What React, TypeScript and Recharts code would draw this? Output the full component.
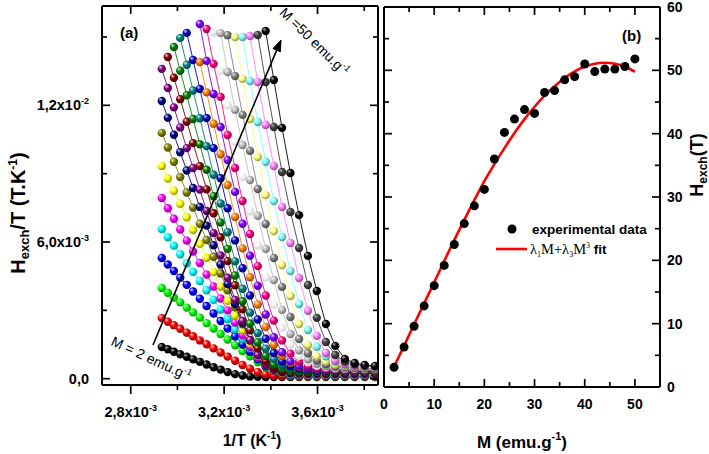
import React from 'react';
import { ScatterChart, Scatter, XAxis, YAxis } from 'recharts';

const FONT = '"Liberation Sans", Arial, sans-serif';
const SERIF = '"Liberation Serif", "Times New Roman", serif';
const _ = null;

// ---------- Panel (a): Hexch/T (10^-3 T/K) vs 1/T (10^-3 1/K) ----------
const INV_T = [2.933, 2.959, 2.985, 3.012, 3.040, 3.067, 3.096, 3.125, 3.155, 3.185, 3.215, 3.247, 3.279, 3.311, 3.344, 3.378, 3.413, 3.448, 3.484, 3.521, 3.559, 3.597, 3.636, 3.676, 3.717, 3.759, 3.802, 3.846];
const M_VALUES = [2, 4, 6, 8, 10, 12, 14, 16, 18, 20, 22, 24, 26, 28, 30, 32, 34, 36, 38, 40, 42, 44, 46, 48, 50];

const HT_M02 = [1.39, 1.29, 1.18, 1.07, 0.96, 0.85, 0.74, 0.62, 0.50, 0.40, 0.29, 0.20, 0.14, 0.10, 0.08, 0.07, 0.07, 0.07, 0.07, 0.07, 0.07, 0.07, 0.07, 0.07, 0.07, 0.07, 0.07, 0.07];
const HT_M04 = [2.66, 2.50, 2.35, 2.19, 2.02, 1.86, 1.68, 1.51, 1.33, 1.15, 0.97, 0.79, 0.60, 0.44, 0.29, 0.19, 0.13, 0.11, 0.10, 0.09, 0.09, 0.09, 0.09, 0.09, 0.09, 0.09, 0.09, 0.09];
const HT_M06 = [3.98, 3.77, 3.56, 3.35, 3.12, 2.91, 2.68, 2.44, 2.20, 1.96, 1.72, 1.47, 1.21, 0.98, 0.72, 0.50, 0.32, 0.21, 0.15, 0.12, 0.11, 0.11, 0.11, 0.11, 0.11, 0.11, 0.11, 0.11];
const HT_M08 = [5.30, 5.01, 4.73, 4.43, 4.12, 3.83, 3.51, 3.19, 2.86, 2.53, 2.20, 1.85, 1.50, 1.17, 0.85, 0.55, 0.35, 0.22, 0.17, 0.14, 0.13, 0.13, 0.13, 0.13, 0.13, 0.13, 0.13, 0.13];
const HT_M10 = [6.57, 6.21, 5.84, 5.46, 5.07, 4.69, 4.29, 3.88, 3.46, 3.04, 2.62, 2.17, 1.75, 1.33, 0.93, 0.60, 0.36, 0.24, 0.18, 0.16, 0.15, 0.15, 0.15, 0.15, 0.15, 0.15, 0.15, 0.15];
const HT_M12 = [7.93, 7.48, 7.02, 6.55, 6.06, 5.58, 5.08, 4.57, 4.05, 3.52, 3.00, 2.46, 1.91, 1.40, 0.94, 0.58, 0.35, 0.24, 0.20, 0.18, 0.17, 0.17, 0.17, 0.17, 0.17, 0.17, 0.17, 0.17];
const HT_M14 = [9.34, 8.79, 8.25, 7.68, 7.09, 6.53, 5.92, 5.31, 4.68, 4.05, 3.42, 2.77, 2.13, 1.53, 1.01, 0.61, 0.37, 0.26, 0.22, 0.20, 0.19, 0.19, 0.19, 0.19, 0.19, 0.19, 0.19, 0.19];
const HT_M16 = [10.79, 10.15, 9.52, 8.85, 8.17, 7.51, 6.80, 6.09, 5.35, 4.62, 3.88, 3.13, 2.39, 1.70, 1.10, 0.67, 0.41, 0.29, 0.24, 0.22, 0.21, 0.21, 0.21, 0.21, 0.21, 0.21, 0.21, 0.21];
const HT_M18 = [12.19, 11.45, 10.71, 9.94, 9.14, 8.37, 7.54, 6.72, 5.86, 5.01, 4.15, 3.28, 2.45, 1.68, 1.06, 0.63, 0.39, 0.29, 0.25, 0.24, 0.23, 0.23, 0.23, 0.23, 0.23, 0.23, 0.23, 0.23];
const HT_M20 = [13.60, 12.76, 11.91, 11.03, 10.12, 9.25, 8.30, 7.36, 6.39, 5.41, 4.43, 3.46, 2.53, 1.69, 1.04, 0.61, 0.40, 0.31, 0.27, 0.26, 0.25, 0.25, 0.25, 0.25, 0.25, 0.25, 0.25, 0.25];
const HT_M22 = [_, 14.12, 13.21, 12.27, 11.28, 10.34, 9.33, 8.31, 7.26, 6.21, 5.16, 4.10, 3.05, 2.12, 1.33, 0.77, 0.48, 0.35, 0.30, 0.28, 0.27, 0.27, 0.27, 0.27, 0.27, 0.27, 0.27, 0.27];
const HT_M24 = [_, _, 14.56, 13.52, 12.44, 11.40, 10.29, 9.17, 8.01, 6.86, 5.70, 4.53, 3.40, 2.42, 1.60, 1.00, 0.62, 0.44, 0.35, 0.31, 0.30, 0.29, 0.29, 0.29, 0.29, 0.29, 0.29, 0.29];
const HT_M26 = [_, _, _, 14.96, 13.78, 12.65, 11.43, 10.21, 8.95, 7.69, 6.43, 5.15, 3.95, 2.90, 2.00, 1.32, 0.86, 0.60, 0.46, 0.39, 0.35, 0.33, 0.32, 0.31, 0.31, 0.31, 0.31, 0.31];
const HT_M28 = [_, _, _, _, 15.18, 13.99, 12.72, 11.44, 10.12, 8.80, 7.48, 6.07, 4.85, 3.65, 2.60, 1.75, 1.13, 0.75, 0.55, 0.45, 0.39, 0.36, 0.35, 0.34, 0.33, 0.33, 0.33, 0.33];
const HT_M30 = [_, _, _, _, _, _, 13.90, 12.57, 11.19, 9.85, 8.50, 7.10, 5.72, 4.45, 3.26, 2.27, 1.49, 1.00, 0.69, 0.52, 0.44, 0.40, 0.38, 0.37, 0.36, 0.36, 0.36, 0.36];
const HT_M32 = [_, _, _, _, _, _, 15.57, 13.95, 12.50, 11.05, 9.60, 8.20, 6.80, 5.40, 4.08, 2.82, 1.82, 1.16, 0.76, 0.55, 0.45, 0.41, 0.39, 0.38, 0.38, 0.38, 0.38, 0.38];
const HT_M34 = [_, _, _, _, _, _, _, 15.35, 13.82, 12.37, 10.70, 9.25, 7.80, 6.35, 4.94, 3.65, 2.55, 1.68, 1.10, 0.75, 0.57, 0.48, 0.44, 0.42, 0.41, 0.40, 0.40, 0.40];
const HT_M36 = [_, _, _, _, _, _, _, _, 15.20, 13.50, 12.00, 10.40, 8.85, 7.35, 5.85, 4.45, 3.25, 2.25, 1.50, 1.00, 0.72, 0.57, 0.50, 0.46, 0.44, 0.43, 0.42, 0.42];
const HT_M38 = [_, _, _, _, _, _, _, _, _, 15.17, 13.46, 11.80, 10.26, 8.72, 7.15, 5.70, 4.33, 3.02, 1.96, 1.25, 0.85, 0.65, 0.55, 0.50, 0.47, 0.46, 0.45, 0.44];
const HT_M40 = [_, _, _, _, _, _, _, _, _, _, 15.08, 13.29, 11.58, 10.00, 8.33, 6.79, 5.30, 4.03, 2.71, 1.74, 1.12, 0.80, 0.64, 0.56, 0.51, 0.49, 0.47, 0.46];
const HT_M42 = [_, _, _, _, _, _, _, _, _, _, _, 15.00, 13.16, 11.40, 9.73, 8.06, 6.48, 4.99, 3.63, 2.40, 1.48, 0.98, 0.74, 0.61, 0.55, 0.52, 0.50, 0.49];
const HT_M44 = [_, _, _, _, _, _, _, _, _, _, _, _, 15.00, 13.07, 11.27, 9.52, 7.80, 6.22, 4.73, 3.28, 2.14, 1.40, 0.98, 0.75, 0.62, 0.56, 0.53, 0.51];
const HT_M46 = [_, _, _, _, _, _, _, _, _, _, _, _, _, 15.04, 13.02, 11.14, 9.34, 7.54, 5.96, 4.42, 2.98, 1.88, 1.13, 0.80, 0.64, 0.57, 0.54, 0.52];
const HT_M48 = [_, _, _, _, _, _, _, _, _, _, _, _, _, _, 15.09, 13.02, 11.05, 9.07, 7.32, 5.74, 4.11, 2.67, 1.61, 1.04, 0.75, 0.63, 0.58, 0.55];
const HT_M50 = [_, _, _, _, _, _, _, _, _, _, _, _, _, _, _, 15.26, 13.11, 11.01, 9.03, 7.18, 5.39, 3.85, 2.40, 1.44, 0.87, 0.69, 0.60, 0.56];

const SERIES_COLORS = ['#000000', '#FF0000', '#00FF00', '#0000FF', '#00FFFF', '#FF00FF', '#FFFF00', '#808000', '#000080', '#800080', '#800000', '#008000', '#008080', '#0000C0', '#FF8000', '#8000FF', '#FF0080', '#FFFFFF', '#C0C0C0', '#808080', '#FFFF80', '#80FFFF', '#FF80FF', '#404040', '#000000'];

const A_X_TICKS = [2.8, 3.0, 3.2, 3.4, 3.6, 3.8];
const A_X_LABELS = [{ v: 2.8, base: '2,8x10', exp: '-3' }, { v: 3.2, base: '3,2x10', exp: '-3' }, { v: 3.6, base: '3,6x10', exp: '-3' }];
const A_Y_TICKS = [0, 3, 6, 9, 12, 15];
const A_Y_LABELS = [{ v: 0, base: '0,0', exp: '' }, { v: 6, base: '6,0x10', exp: '-3' }, { v: 12, base: '1,2x10', exp: '-2' }];

// ---------- Panel (b): Hexch (T) vs M (emu/g) ----------
const M_EXP = [2, 4, 6, 8, 10, 12, 14, 16, 18, 20, 22, 24, 26, 28, 30, 32, 34, 36, 38, 40, 42, 44, 46, 48, 50];
const H_EXP = [3.1, 6.3, 9.6, 12.8, 16.0, 19.2, 22.5, 25.8, 28.6, 31.2, 36.0, 40.2, 42.3, 43.8, 43.2, 46.5, 46.8, 48.5, 49.0, 51.0, 49.8, 50.2, 50.2, 50.6, 51.8];
const M_FIT = [2, 4, 6, 8, 10, 12, 14, 16, 18, 20, 22, 24, 26, 28, 30, 32, 34, 36, 38, 40, 42, 44, 46, 48, 50];
const H_FIT = [3.2, 6.5, 9.9, 13.2, 16.5, 19.9, 23.2, 26.4, 29.5, 32.5, 35.2, 37.7, 40.1, 42.3, 44.25, 46.0, 47.5, 48.8, 49.85, 50.6, 51.05, 51.2, 51.05, 50.6, 49.75];
const B_X_TICKS = [0, 5, 10, 15, 20, 25, 30, 35, 40, 45, 50];
const B_X_LABELS = [0, 10, 20, 30, 40, 50];
const B_Y_TICKS = [0, 5, 10, 15, 20, 25, 30, 35, 40, 45, 50, 55, 60];
const B_Y_LABELS = [0, 10, 20, 30, 40, 50, 60];

const HT_SERIES = [HT_M02, HT_M04, HT_M06, HT_M08, HT_M10, HT_M12, HT_M14, HT_M16, HT_M18, HT_M20, HT_M22, HT_M24, HT_M26, HT_M28, HT_M30, HT_M32, HT_M34, HT_M36, HT_M38, HT_M40, HT_M42, HT_M44, HT_M46, HT_M48, HT_M50];

const panelAData = HT_SERIES.map((arr) =>
  arr.map((v, i) => (v == null ? null : { x: INV_T[i], y: v })).filter((p) => p !== null) as { x: number; y: number }[]
);
const expData = M_EXP.map((m, i) => ({ x: m, y: H_EXP[i] }));
const fitData = M_FIT.map((m, i) => ({ x: m, y: H_FIT[i] }));

function mix(hex: string, target: number, f: number) {
  const n = parseInt(hex.slice(1), 16);
  const c = [(n >> 16) & 255, (n >> 8) & 255, n & 255].map((v) => Math.round(v + (target - v) * f));
  return `rgb(${c[0]},${c[1]},${c[2]})`;
}

const near = (a: number, b: number) => Math.abs(a - b) < 1e-6;
const LW = 1.7;

// Panel (a) ticks
const ABottomTick = (p: any) => {
  const lab = A_X_LABELS.find((l) => near(l.v, p.payload.value));
  return (
    <g>
      <line x1={p.x} x2={p.x} y1={p.y} y2={p.y + (lab ? 9 : 5)} stroke="#000" strokeWidth={LW} />
      {lab && (
        <text x={p.x} y={p.y + 32} textAnchor="middle" fontFamily={FONT} fontWeight="bold" fontSize={14.5} fill="#000">
          {lab.base}
          <tspan dy={-6} fontSize={9}>{lab.exp}</tspan>
        </text>
      )}
    </g>
  );
};
const ATopTick = (p: any) => {
  const major = A_X_LABELS.some((l) => near(l.v, p.payload.value));
  return <line x1={p.x} x2={p.x} y1={p.y} y2={p.y + (major ? 8 : 5)} stroke="#000" strokeWidth={LW} />;
};
const ALeftTick = (p: any) => {
  const lab = A_Y_LABELS.find((l) => near(l.v, p.payload.value));
  return (
    <g>
      <line x1={p.x} x2={p.x + (lab ? 8 : 5)} y1={p.y} y2={p.y} stroke="#000" strokeWidth={LW} />
      {lab && (
        <text x={p.x - 13} y={p.y + 5} textAnchor="end" fontFamily={FONT} fontWeight="bold" fontSize={14.5} fill="#000">
          {lab.base}
          {lab.exp && <tspan dy={-6} fontSize={9}>{lab.exp}</tspan>}
        </text>
      )}
    </g>
  );
};
const ARightTick = (p: any) => {
  const major = A_Y_LABELS.some((l) => near(l.v, p.payload.value));
  return <line x1={p.x} x2={p.x - (major ? 8 : 5)} y1={p.y} y2={p.y} stroke="#000" strokeWidth={LW} />;
};

// Panel (b) ticks
const BBottomTick = (p: any) => {
  const major = B_X_LABELS.includes(p.payload.value);
  return (
    <g>
      <line x1={p.x} x2={p.x} y1={p.y} y2={p.y - (major ? 8 : 5)} stroke="#000" strokeWidth={LW} />
      {major && (
        <text x={p.x} y={p.y + 22} textAnchor="middle" fontFamily={FONT} fontWeight="bold" fontSize={14} fill="#000">
          {p.payload.value}
        </text>
      )}
    </g>
  );
};
const BTopTick = (p: any) => {
  const major = B_X_LABELS.includes(p.payload.value);
  return <line x1={p.x} x2={p.x} y1={p.y} y2={p.y + (major ? 8 : 5)} stroke="#000" strokeWidth={LW} />;
};
const BRightTick = (p: any) => {
  const major = B_Y_LABELS.includes(p.payload.value);
  return (
    <g>
      <line x1={p.x} x2={p.x - (major ? 8 : 5)} y1={p.y} y2={p.y} stroke="#000" strokeWidth={LW} />
      {major && (
        <text x={p.x + 7} y={p.y + 5} textAnchor="start" fontFamily={FONT} fontWeight="bold" fontSize={14} fill="#000">
          {p.payload.value}
        </text>
      )}
    </g>
  );
};
const BLeftTick = (p: any) => {
  const major = B_Y_LABELS.includes(p.payload.value);
  return <line x1={p.x} x2={p.x + (major ? 8 : 5)} y1={p.y} y2={p.y} stroke="#000" strokeWidth={LW} />;
};

const AXLINE = { stroke: '#000', strokeWidth: 2 };
const A_XDOM: [number, number] = [2.677, 3.859];
const A_YDOM: [number, number] = [-0.277, 16.36];

const makeBall = (i: number) => (p: any) =>
  p.cx == null ? <g /> : <circle cx={p.cx} cy={p.cy} r={4.2} fill={`url(#ball${i})`} />;

const ExpDot = (p: any) => (p.cx == null ? <g /> : <circle cx={p.cx} cy={p.cy} r={4.5} fill="#000" />);
const NoDot = () => <g />;

export default function App() {
  return (
    <div style={{ position: 'absolute', left: 0, top: 0, width: 709, height: 454, background: '#fff', overflow: 'hidden' }}>
      <svg width={0} height={0} style={{ position: 'absolute' }}>
        <defs>
          {SERIES_COLORS.map((c, i) => (
            <radialGradient key={i} id={`ball${i}`} cx="42%" cy="40%" r="62%" fx="32%" fy="28%">
              <stop offset="0%" stopColor={c === '#000000' || c === '#404040' ? '#b0b0b0' : mix(c, 255, 0.85)} />
              <stop offset="45%" stopColor={c === '#FFFFFF' ? '#f4f4f4' : c} />
              <stop offset="100%" stopColor={c === '#FFFFFF' ? '#cfcfcf' : mix(c, 0, 0.45)} />
            </radialGradient>
          ))}
        </defs>
      </svg>

      {/* Panel (a): plot area x 102..378, y 6..385 */}
      <div style={{ position: 'absolute', left: 0, top: 0 }}>
        <ScatterChart width={709} height={454} margin={{ top: 5, left: 101, right: 330, bottom: 68 }}>
          <XAxis xAxisId="b" type="number" dataKey="x" domain={A_XDOM} ticks={A_X_TICKS} interval={0} allowDataOverflow height={1} tickSize={0} tickMargin={0} tickLine={false} axisLine={AXLINE} tick={ABottomTick} />
          <XAxis xAxisId="t" orientation="top" type="number" dataKey="x" domain={A_XDOM} ticks={A_X_TICKS} interval={0} allowDataOverflow height={1} tickSize={0} tickMargin={0} tickLine={false} axisLine={AXLINE} tick={ATopTick} />
          <YAxis yAxisId="l" type="number" dataKey="y" domain={A_YDOM} ticks={A_Y_TICKS} interval={0} allowDataOverflow width={1} tickSize={0} tickMargin={0} tickLine={false} axisLine={AXLINE} tick={ALeftTick} />
          <YAxis yAxisId="r" orientation="right" type="number" dataKey="y" domain={A_YDOM} ticks={A_Y_TICKS} interval={0} allowDataOverflow width={1} tickSize={0} tickMargin={0} tickLine={false} axisLine={AXLINE} tick={ARightTick} />
          {panelAData.map((d, i) => (
            <Scatter
              key={M_VALUES[i]}
              name={`M = ${M_VALUES[i]} emu/g`}
              xAxisId="b"
              yAxisId="l"
              data={d}
              fill={SERIES_COLORS[i]}
              line={{ stroke: SERIES_COLORS[i], strokeWidth: 0.9 }}
              shape={makeBall(i)}
              isAnimationActive={false}
            />
          ))}
        </ScatterChart>
      </div>

      {/* Panel (b): plot area x 384..660, y 7..387 */}
      <div style={{ position: 'absolute', left: 0, top: 0 }}>
        <ScatterChart width={709} height={454} margin={{ top: 6, left: 383, right: 48, bottom: 66 }}>
          <XAxis xAxisId="b" type="number" dataKey="x" domain={[0, 55]} ticks={B_X_TICKS} interval={0} allowDataOverflow height={1} tickSize={0} tickMargin={0} tickLine={false} axisLine={AXLINE} tick={BBottomTick} />
          <XAxis xAxisId="t" orientation="top" type="number" dataKey="x" domain={[0, 55]} ticks={B_X_TICKS} interval={0} allowDataOverflow height={1} tickSize={0} tickMargin={0} tickLine={false} axisLine={AXLINE} tick={BTopTick} />
          <YAxis yAxisId="r" orientation="right" type="number" dataKey="y" domain={[0, 60]} ticks={B_Y_TICKS} interval={0} allowDataOverflow width={1} tickSize={0} tickMargin={0} tickLine={false} axisLine={AXLINE} tick={BRightTick} />
          <YAxis yAxisId="l" type="number" dataKey="y" domain={[0, 60]} ticks={B_Y_TICKS} interval={0} allowDataOverflow width={1} tickSize={0} tickMargin={0} tickLine={false} axisLine={AXLINE} tick={BLeftTick} />
          <Scatter name="fit" xAxisId="b" yAxisId="r" data={fitData} fill="#ff0000" line={{ stroke: '#ff0000', strokeWidth: 2.6 }} lineJointType="monotoneX" shape={NoDot} isAnimationActive={false} />
          <Scatter name="experimental data" xAxisId="b" yAxisId="r" data={expData} fill="#000" shape={ExpDot} isAnimationActive={false} />
        </ScatterChart>
      </div>

      {/* Annotations */}
      <svg width={709} height={454} style={{ position: 'absolute', left: 0, top: 0, pointerEvents: 'none' }}>
        <text x={120} y={38} fontFamily={FONT} fontWeight="bold" fontSize={15} fill="#000">(a)</text>
        <text x={622} y={41} fontFamily={FONT} fontWeight="bold" fontSize={15} fill="#000">(b)</text>

        <line x1={153} y1={345} x2={276.7} y2={50.1} stroke="#000" strokeWidth={1.6} />
        <polygon points="281,40 280.4,51.7 273.0,48.6" fill="#000" stroke="#000" strokeWidth={1} />
        <text transform="translate(149,363) rotate(25)" textAnchor="middle" fontFamily={FONT} fontSize={14} fill="#000">
          M = 2 emu.g<tspan dy={-6} fontSize={9}>-1</tspan>
        </text>
        <text transform="translate(311,45) rotate(44.5)" textAnchor="middle" fontFamily={FONT} fontSize={14} fill="#000">
          M =50 emu.g<tspan dy={-6} fontSize={9}>-1</tspan>
        </text>

        <circle cx={512} cy={229} r={4.5} fill="#000" />
        <text x={532} y={233.5} fontFamily={FONT} fontWeight="bold" fontSize={13.5} fill="#000">experimental data</text>
        <line x1={496} y1={249} x2={527} y2={249} stroke="#ff0000" strokeWidth={2.6} />
        <text x={530} y={254} fontFamily={SERIF} fontSize={14.5} fill="#000">
          λ<tspan dy={3} fontSize={8}>1</tspan>
          <tspan dy={-3}>M+λ</tspan>
          <tspan dy={3} fontSize={8}>3</tspan>
          <tspan dy={-3}>M</tspan>
          <tspan dy={-6} fontSize={8}>3</tspan>
          <tspan dy={6} fontFamily={FONT} fontWeight="bold" fontSize={13.5}> fit</tspan>
        </text>

        <text x={252} y={446} textAnchor="middle" fontFamily={FONT} fontWeight="bold" fontSize={16} fill="#000">
          1/T (K<tspan dy={-7} fontSize={10}>-1</tspan>
          <tspan dy={7}>)</tspan>
        </text>
        <text x={522} y={448} textAnchor="middle" fontFamily={FONT} fontWeight="bold" fontSize={17} fill="#000">
          M (emu.g<tspan dy={-8} fontSize={11}>-1</tspan>
          <tspan dy={8}>)</tspan>
        </text>
        <text transform="translate(25,213) rotate(-90)" textAnchor="middle" fontFamily={FONT} fontWeight="bold" fontSize={20} fill="#000">
          H<tspan dy={4} fontSize={13}>exch</tspan>
          <tspan dy={-4}>/T (T.K</tspan>
          <tspan dy={-8} fontSize={12}>-1</tspan>
          <tspan dy={8}>)</tspan>
        </text>
        <text transform="translate(703,165) rotate(-90)" textAnchor="middle" fontFamily={FONT} fontWeight="bold" fontSize={18} fill="#000">
          H<tspan dy={4} fontSize={12}>exch</tspan>
          <tspan dy={-4}>(T)</tspan>
        </text>
      </svg>
    </div>
  );
}
